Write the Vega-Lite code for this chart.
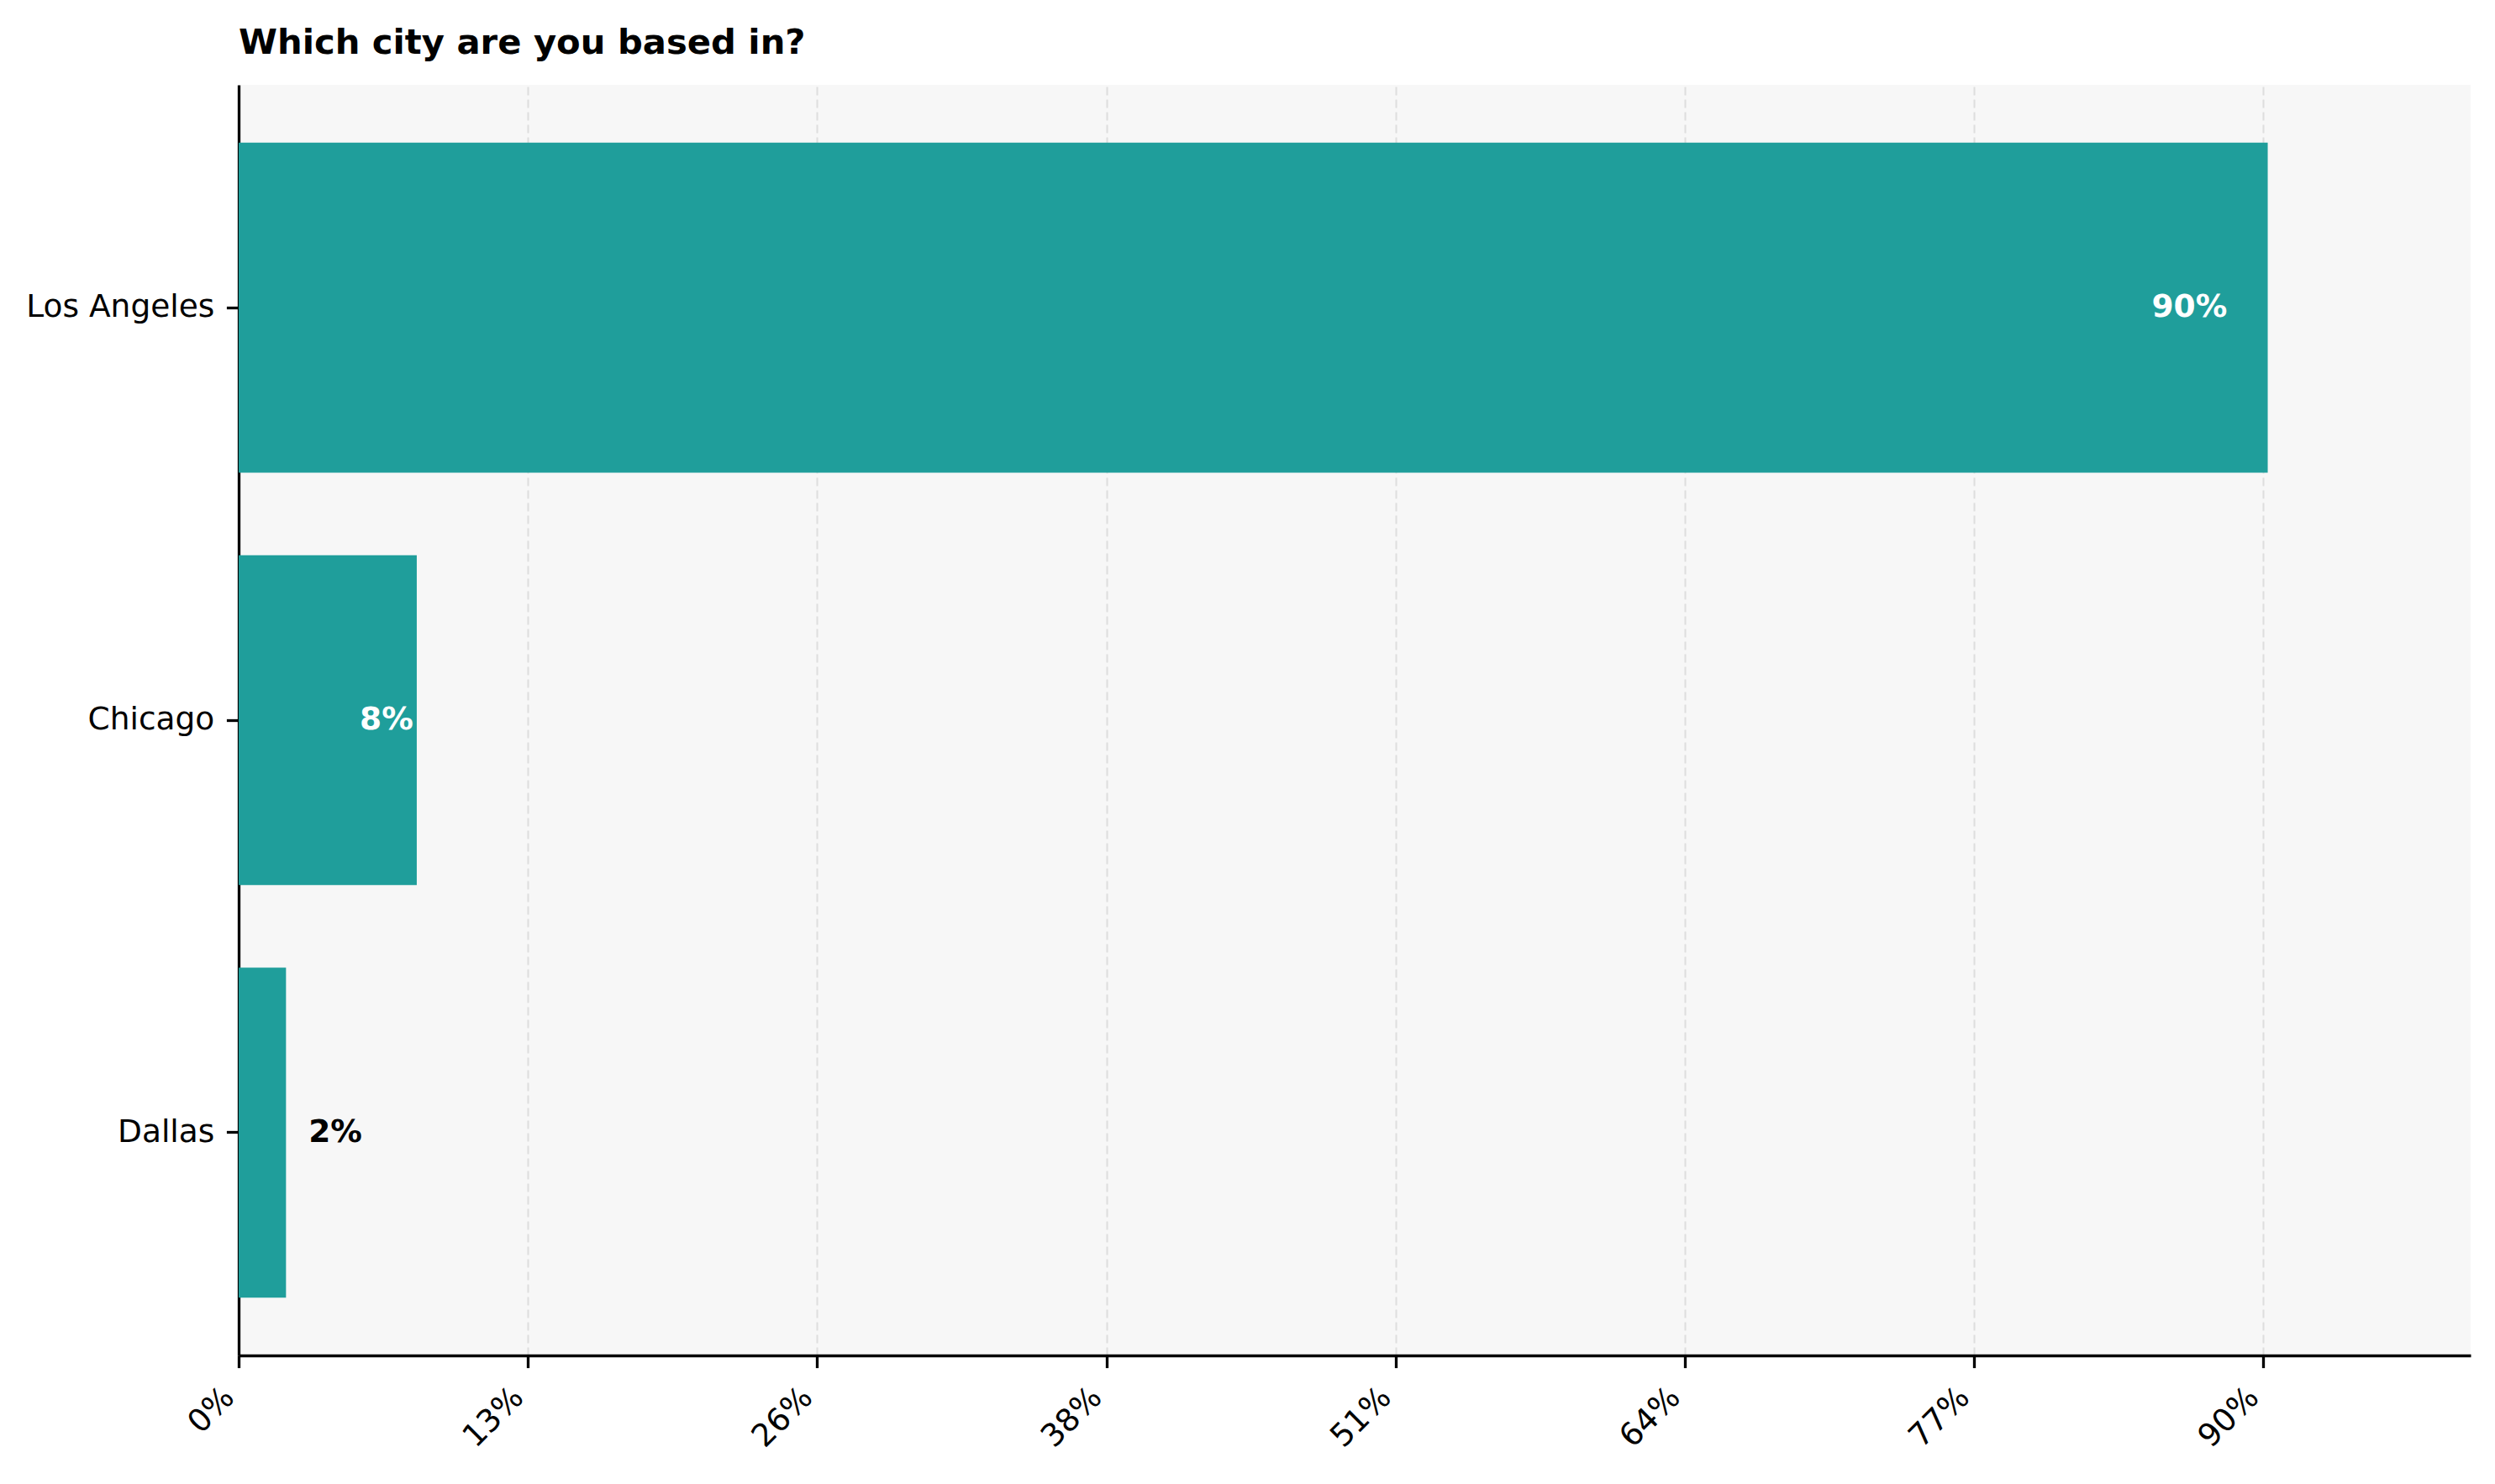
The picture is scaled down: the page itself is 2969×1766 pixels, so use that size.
{
  "$schema": "https://vega.github.io/schema/vega-lite/v6.json",
  "autosize": {"type": "none"},
  "padding": {"left": 284, "top": 101, "right": 29, "bottom": 153},
  "width": 2656,
  "height": 1512,
  "background": "white",
  "title": {
    "text": "Which city are you based in?",
    "font": "DejaVu Sans",
    "fontSize": 41.7,
    "fontWeight": "bold",
    "color": "black",
    "anchor": "start",
    "frame": "group",
    "baseline": "bottom",
    "offset": 29,
    "dy": 43
  },
  "config": {
    "view": {"stroke": null, "fill": "#f7f7f7"},
    "font": "DejaVu Sans"
  },
  "data": {
    "values": [
      {"city": "Los Angeles", "pct": 90.0},
      {"city": "Chicago", "pct": 7.9},
      {"city": "Dallas", "pct": 2.1}
    ]
  },
  "encoding": {
    "y": {
      "field": "city",
      "type": "nominal",
      "sort": null,
      "title": null,
      "scale": {"paddingInner": 0.2, "paddingOuter": 0.14},
      "axis": {
        "domainColor": "black",
        "domainWidth": 3.3,
        "tickColor": "black",
        "tickWidth": 3.3,
        "tickSize": 14.6,
        "labelFont": "DejaVu Sans",
        "labelFontSize": 37.5,
        "labelColor": "black",
        "labelPadding": 14.6,
        "labelLimit": 0,
        "grid": false
      }
    }
  },
  "layer": [
    {
      "mark": {"type": "bar", "color": "#1f9e9b"},
      "encoding": {
        "x": {
          "field": "pct",
          "type": "quantitative",
          "title": null,
          "scale": {"domain": [0, 99], "nice": false, "zero": true},
          "axis": {
            "values": [0, 12.8286, 25.6571, 38.4857, 51.3143, 64.1429, 76.9714, 89.8],
            "labelExpr": "format(datum.value, '.0f') + '%'",
            "labelAngle": -45,
            "labelAlign": "right",
            "labelBaseline": "top",
            "labelOffset": -25,
            "labelPadding": 16,
            "labelFont": "DejaVu Sans",
            "labelFontSize": 37.5,
            "labelColor": "black",
            "labelOverlap": false,
            "labelLimit": 0,
            "domainColor": "black",
            "domainWidth": 3.3,
            "tickColor": "black",
            "tickWidth": 3.3,
            "tickSize": 14.6,
            "grid": true,
            "gridColor": "#dedede",
            "gridWidth": 2,
            "gridDash": [10, 5]
          }
        }
      }
    },
    {
      "transform": [
        {"filter": "datum.pct > 5"},
        {"calculate": "datum.pct * 0.98", "as": "labelPos"},
        {"calculate": "format(datum.pct, '.0f') + '%'", "as": "label"}
      ],
      "mark": {
        "type": "text",
        "align": "right",
        "baseline": "middle",
        "font": "DejaVu Sans",
        "fontSize": 37.5,
        "fontWeight": "bold",
        "color": "white"
      },
      "encoding": {
        "x": {"field": "labelPos", "type": "quantitative"},
        "text": {"field": "label", "type": "nominal"}
      }
    },
    {
      "transform": [
        {"filter": "datum.pct <= 5"},
        {"calculate": "datum.pct + 1", "as": "labelPos"},
        {"calculate": "format(datum.pct, '.0f') + '%'", "as": "label"}
      ],
      "mark": {
        "type": "text",
        "align": "left",
        "baseline": "middle",
        "font": "DejaVu Sans",
        "fontSize": 37.5,
        "fontWeight": "bold",
        "color": "black"
      },
      "encoding": {
        "x": {"field": "labelPos", "type": "quantitative"},
        "text": {"field": "label", "type": "nominal"}
      }
    }
  ]
}
